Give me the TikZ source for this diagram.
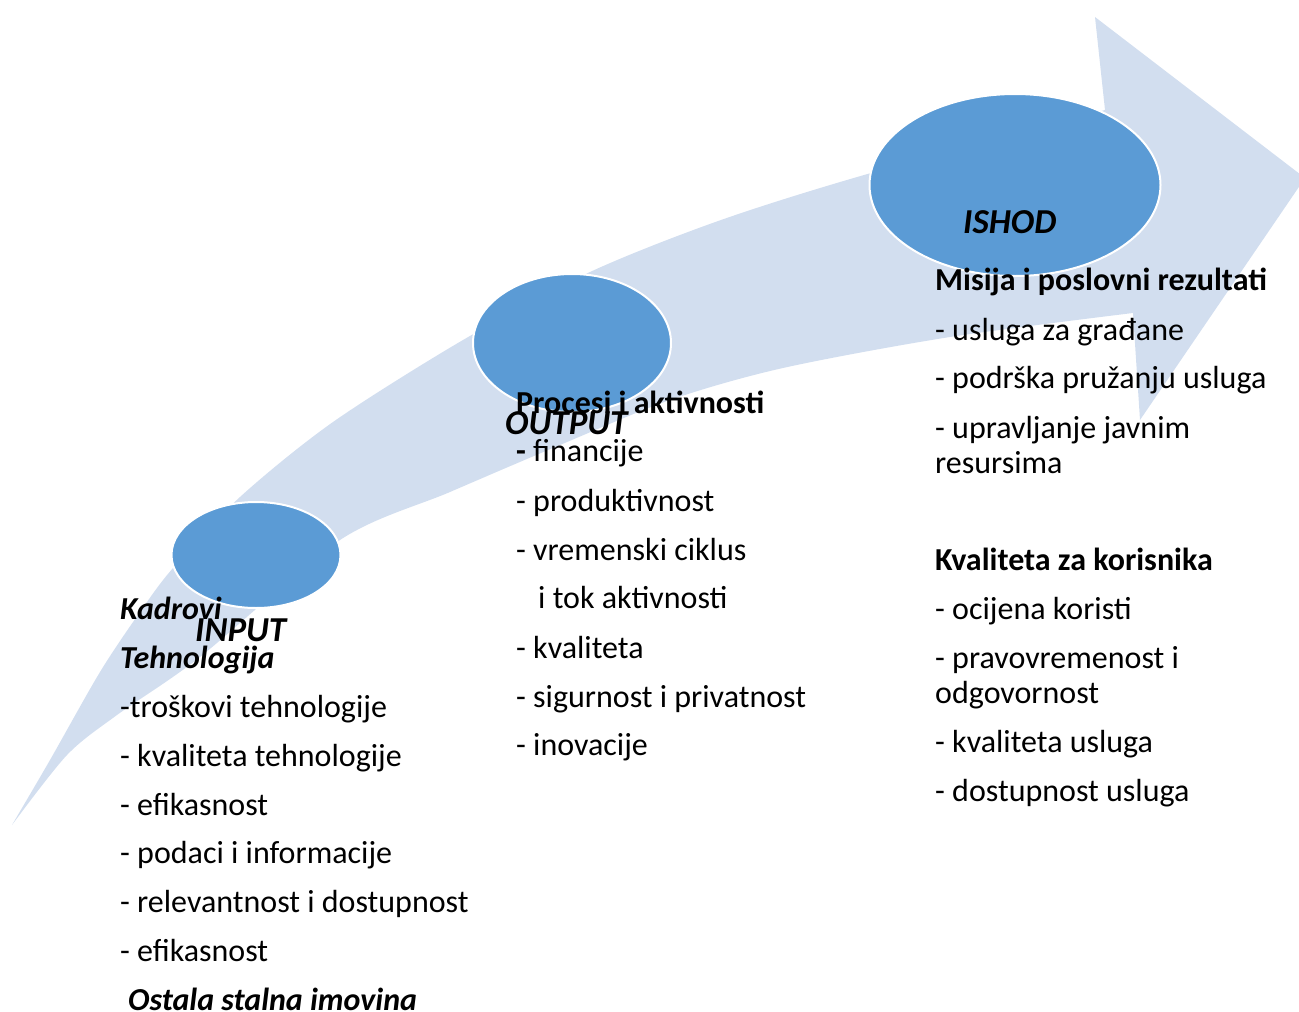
\documentclass[tikz,border=0pt]{standalone}
\usepackage{fontspec}
\setmainfont{Carlito}
\usetikzlibrary{shapes.geometric}
\definecolor{bandcol}{HTML}{D2DEEF}
\definecolor{ellcol}{HTML}{5B9BD5}
\begin{document}
\begin{tikzpicture}[x=1pt,y=-1pt,
  blob/.style={ellipse, fill=ellcol, draw=white, line width=2pt, inner sep=0pt},
  txt/.style={anchor=base west, inner sep=0pt, font=\fontsize{32}{37}\selectfont},
  hd/.style={txt, font=\fontsize{32}{37}\selectfont\bfseries},
  lbl/.style={txt, font=\fontsize{32}{37}\selectfont\bfseries\itshape},
  biglbl/.style={txt, font=\fontsize{35}{40}\selectfont\bfseries\itshape}]
\useasboundingbox (0,0) rectangle (1299,1012);
\begin{scope}
\clip (0,0) rectangle (1299,1012);
\fill[bandcol] plot[smooth] coordinates {(12,825) (50,760) (100,672) (140,612) (173,568) (240,497) (333,422) (463,340) (590,272) (721,220) (871,173) (1105,110)}
  -- (1095,17) -- (1305,178) -- (1140,420) -- (1133,313)
  -- plot[smooth] coordinates {(1133,313) (950,337) (783,368) (670,400) (560,445) (450,492) (340,540) (200,657) (117,715) (67,755) (12,825)} -- cycle;
\end{scope}
\node[blob, minimum width=169pt, minimum height=106pt] (inp) at (256,555) {};
\node[blob, minimum width=198pt, minimum height=138pt] (outp) at (572,343) {};
\node[blob, minimum width=291pt, minimum height=182pt] (ishod) at (1015,185) {};
% left column
\node[lbl] (kadrovi) at (120,619) {Kadrovi};
\node[biglbl] (input) at (195,641) {INPUT};
\node[lbl] (tehn) at (120,668) {Tehnologija};
\node[txt] (l1) at (120,717) {-troškovi tehnologije};
\node[txt] (l2) at (120,766) {- kvaliteta tehnologije};
\node[txt] (l3) at (120,815) {- efikasnost};
\node[txt] (l4) at (120,863) {- podaci i informacije};
\node[txt] (l5) at (120,912) {- relevantnost i dostupnost};
\node[txt] (l6) at (120,961) {- efikasnost};
\node[lbl] (ostala) at (128,1010) {Ostala stalna imovina};
% middle column
\node[hd] (procesi) at (516,413) {Procesi i aktivnosti};
\node[biglbl] (output) at (505,434) {OUTPUT};
\node[txt] (m1) at (516,461) {\textbf{-} financije};
\node[txt] (m2) at (516,511) {- produktivnost};
\node[txt] (m3) at (516,560) {- vremenski ciklus};
\node[txt] (m4) at (538,608) {i tok aktivnosti};
\node[txt] (m5) at (516,658) {- kvaliteta};
\node[txt] (m6) at (516,707) {- sigurnost i privatnost};
\node[txt] (m7) at (516,755) {- inovacije};
% right column
\node[biglbl] (ishodlbl) at (963,233) {ISHOD};
\node[hd] (misija) at (935,290) {Misija i poslovni rezultati};
\node[txt] (r1) at (935,340) {- usluga za građane};
\node[txt] (r2) at (935,388) {- podrška pružanju usluga};
\node[txt] (r3) at (935,438) {- upravljanje javnim};
\node[txt] (r4) at (935,473) {resursima};
\node[hd] (kval) at (935,570) {Kvaliteta za korisnika};
\node[txt] (r5) at (935,619) {- ocijena koristi};
\node[txt] (r6) at (935,668) {- pravovremenost i};
\node[txt] (r7) at (935,703) {odgovornost};
\node[txt] (r8) at (935,752) {- kvaliteta usluga};
\node[txt] (r9) at (935,801) {- dostupnost usluga};
\end{tikzpicture}
\end{document}
